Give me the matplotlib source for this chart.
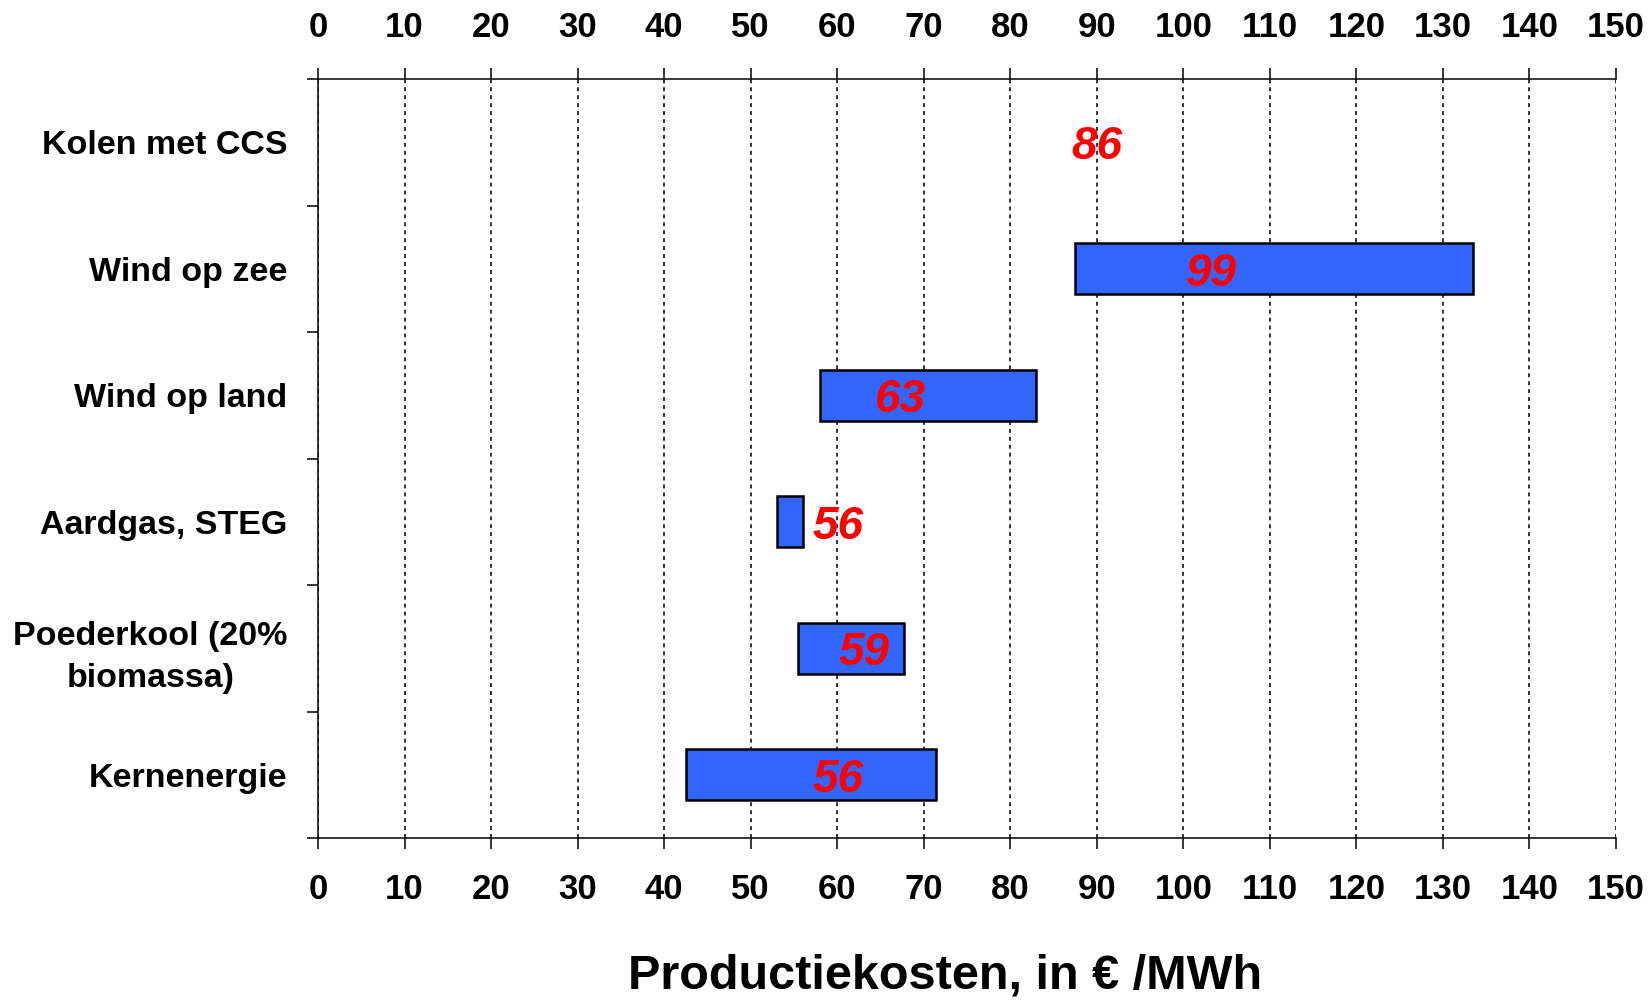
"""
Productiekosten per technologie, als zwevende balken (laag - hoog) met gemiddelde.
"""

import matplotlib.pyplot as plt

plt.rcParams["font.family"] = ["Liberation Sans", "DejaVu Sans"]
plt.rcParams["font.weight"] = "bold"

categories = [
    "Kolen met CCS",
    "Wind op zee",
    "Wind op land",
    "Aardgas, STEG",
    "Poederkool (20%\nbiomassa)",
    "Kernenergie",
]
# range of production costs per technology (None = no range shown)
cost_low = [None, 87.5, 58.0, 53.0, 55.5, 42.5]
cost_high = [None, 133.5, 83.0, 56.0, 67.7, 71.4]
# central estimate written in red, and where it is written on the x axis
central = [86, 99, 63, 56, 59, 56]
label_x = [90.0, 103.2, 67.3, 60.1, 63.1, 60.1]

x_ticks = list(range(0, 151, 10))

fig = plt.figure(figsize=(16.48, 10.01), dpi=100)
ax = fig.add_axes([318 / 1648, 1 - 838 / 1001, (1616 - 318) / 1648, (838 - 79) / 1001])

for i, (lo, hi) in enumerate(zip(cost_low, cost_high)):
    if lo is None:
        continue
    ax.barh(i + 0.5, hi - lo, left=lo, height=0.40, color="#3366FF",
            edgecolor="black", linewidth=1.8, zorder=3)

for i, (val, xpos) in enumerate(zip(central, label_x)):
    ax.text(xpos, i + 0.5, str(val), color="#FF0000", fontsize=33,
            fontweight="bold", fontstyle="italic", ha="center",
            va="center_baseline", zorder=4)

ax.set_xlim(0, 150)
ax.set_ylim(len(categories), 0)

ax.set_xticks(x_ticks)
ax.set_xticklabels([str(t) for t in x_ticks])
ax.tick_params(axis="x", which="major", top=True, labeltop=True,
               bottom=True, labelbottom=True, direction="out",
               length=8, width=1.1, labelsize=25, pad=17)
ax.grid(axis="x", color="#222222", linestyle=(0, (2.2, 2.2)), linewidth=1.3,
        zorder=1)

# boundaries between categories get the tick marks, names sit in between
ax.set_yticks(range(len(categories) + 1))
ax.set_yticklabels([])
ax.set_yticks([i + 0.5 for i in range(len(categories))], minor=True)
ax.set_yticklabels(categories, minor=True)
ax.tick_params(axis="y", which="major", direction="out", length=8, width=1.1)
ax.tick_params(axis="y", which="minor", length=0, labelsize=24.5, pad=22)
for lbl in ax.get_yticklabels(minor=True):
    lbl.set_multialignment("center")
    lbl.set_linespacing(1.45)

ax.spines["right"].set_visible(False)
for side in ["left", "top", "bottom"]:
    ax.spines[side].set_linewidth(1.1)

fig.text(945 / 1648, 1 - 988 / 1001, "Productiekosten, in € /MWh",
         fontsize=35, fontweight="bold", ha="center", va="baseline")

fig.savefig("out.png", dpi=100)
plt.close(fig)
